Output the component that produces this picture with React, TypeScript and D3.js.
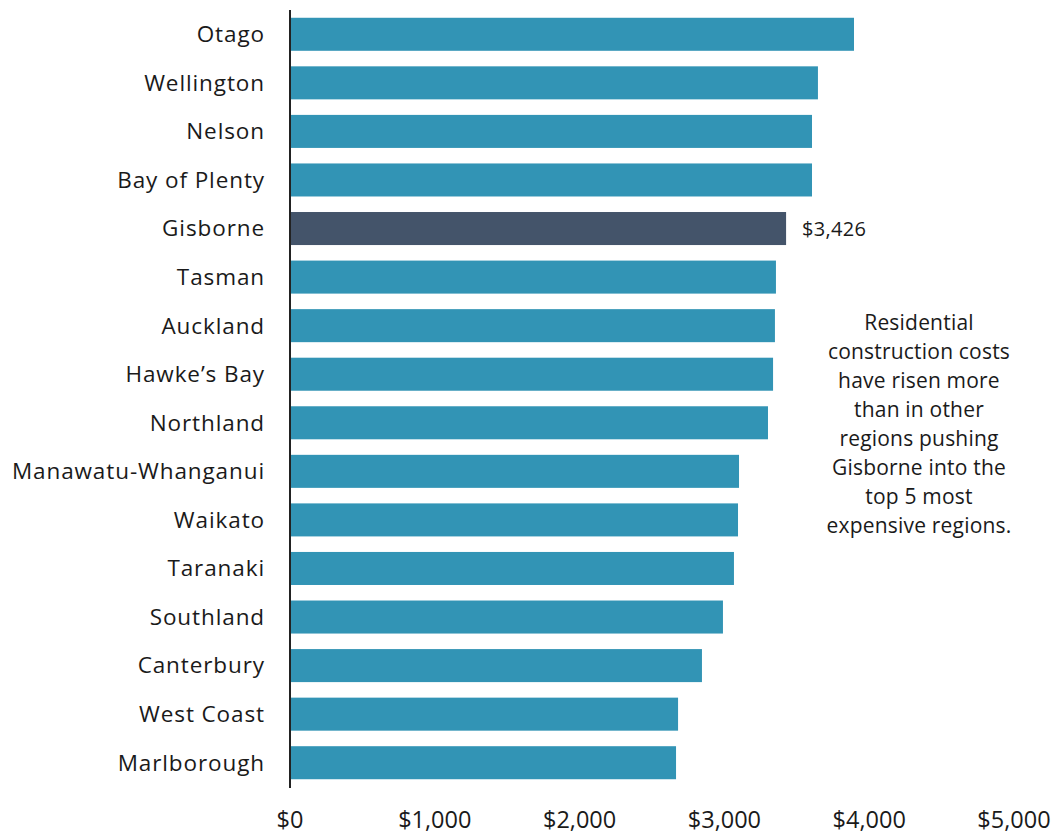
import React from "react";
import * as d3 from "d3";

const regions = [
  "Otago", "Wellington", "Nelson", "Bay of Plenty", "Gisborne", "Tasman", "Auckland",
  "Hawke\u2019s Bay", "Northland", "Manawatu-Whanganui", "Waikato", "Taranaki",
  "Southland", "Canterbury", "West Coast", "Marlborough",
];
const costs = [3895, 3646, 3605, 3605, 3426, 3356, 3349, 3336, 3301, 3101, 3094, 3066, 2990, 2845, 2680, 2666];
const highlight = "Gisborne";
const xTicks = [0, 1000, 2000, 3000, 4000, 5000];
const noteLines = [
  "Residential", "construction costs", "have risen more", "than in other",
  "regions pushing", "Gisborne into the", "top 5 most", "expensive regions.",
];

const W = 1057, H = 835;
const font = "'Open Sans', sans-serif";

export default function App() {
  const x = d3.scaleLinear().domain([0, 5000]).range([290, 1014]);
  const y = d3.scaleBand<string>().domain(regions).range([10, 787]).paddingInner(0.32).paddingOuter(0.16);
  const fmt = (v: number) => "$" + d3.format(",")(v);
  return (
    <svg width={W} height={H} style={{ position: "absolute", left: 0, top: 0 }} fontFamily={font}>
      {regions.map((r, i) => (
        <g key={r}>
          <rect x={x(0)} y={y(r)} width={x(costs[i]) - x(0)} height={y.bandwidth()}
            fill={r === highlight ? "#44546a" : "#3294b5"} />
          <text x={265} y={(y(r) as number) + y.bandwidth() / 2} dy="0.35em" textAnchor="end"
            fontSize={22.5} letterSpacing={0.9} fill="#1a1a1a">{r}</text>
          {r === highlight && (
            <text x={x(costs[i]) + 16} y={(y(r) as number) + y.bandwidth() / 2} dy="0.35em"
              fontSize={20} letterSpacing={0.3} fill="#1a1a1a">{fmt(costs[i])}</text>
          )}
        </g>
      ))}
      <line x1={x(0)} x2={x(0)} y1={10} y2={788} stroke="#222" strokeWidth={2} />
      {xTicks.map((t) => (
        <text key={t} x={x(t)} y={828} textAnchor="middle" fontSize={23.5} fill="#1a1a1a">{fmt(t)}</text>
      ))}
      {noteLines.map((l, i) => (
        <text key={i} x={919} y={330 + i * 29} textAnchor="middle" fontSize={21} letterSpacing={0.2} fill="#1a1a1a">{l}</text>
      ))}
    </svg>
  );
}
